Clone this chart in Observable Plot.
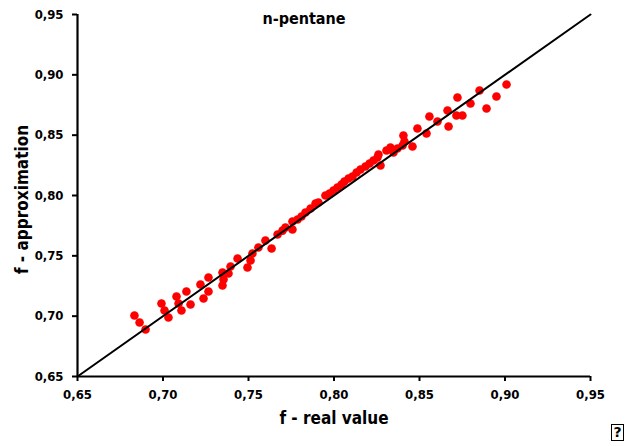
<!DOCTYPE html>
<html>
<head>
<meta charset="utf-8">
<script src="https://cdn.jsdelivr.net/npm/d3@7"></script>
<script src="https://cdn.jsdelivr.net/npm/@observablehq/plot@0.6"></script>
<style>
  html, body { margin: 0; padding: 0; background: #fff; }
  #wrap { position: relative; width: 627px; height: 446px; overflow: hidden; }
  #icon { position: absolute; left: 611px; top: 424px; width: 11px; height: 15px; border: 1px solid #000;
          font: bold 14px "DejaVu Sans", sans-serif; line-height: 15px; text-align: center; color: #000; }
</style>
</head>
<body>
<div id="wrap"></div>
<script>
const chartTitle = "n-pentane";
const xLabel = "f - real value";
const yLabel = "f - approximation";
const ticks = [0.65, 0.70, 0.75, 0.80, 0.85, 0.90, 0.95];
const diagonal = [0.65, 0.95];

// f - real value
const realValue = [
  0.6833, 0.6863, 0.6898, 0.6991, 0.7009, 0.7032, 0.7079, 0.7091, 0.7108, 0.7137,
  0.7161, 0.7219, 0.7237, 0.7266, 0.7266, 0.7348, 0.7348, 0.7354, 0.7395, 0.7383,
  0.7436, 0.7494, 0.7512, 0.7523, 0.7558, 0.7599, 0.7635, 0.7670, 0.7699, 0.7716,
  0.7757, 0.7757, 0.7787, 0.7810, 0.7833, 0.7863, 0.7892, 0.7909, 0.7950, 0.7974,
  0.7997, 0.8020, 0.8044, 0.8061, 0.8085, 0.8108, 0.8132, 0.8155, 0.8184, 0.8208,
  0.8231, 0.8254, 0.8260, 0.8272, 0.8307, 0.8330, 0.8348, 0.8371, 0.8406, 0.8401,
  0.8412, 0.8459, 0.8488, 0.8541, 0.8558, 0.8605, 0.8664, 0.8670, 0.8722, 0.8716,
  0.8751, 0.8798, 0.8851, 0.8892, 0.8950, 0.9009
];
// f - approximation
const approximation = [
  0.7006, 0.6947, 0.6889, 0.7105, 0.7047, 0.6989, 0.7163, 0.7105, 0.7047, 0.7204,
  0.7097, 0.7262, 0.7146, 0.7320, 0.7204, 0.7362, 0.7254, 0.7304, 0.7412, 0.7354,
  0.7478, 0.7403, 0.7461, 0.7519, 0.7569, 0.7627, 0.7561, 0.7677, 0.7709, 0.7735,
  0.7784, 0.7718, 0.7801, 0.7826, 0.7859, 0.7892, 0.7934, 0.7942, 0.8000, 0.8017,
  0.8041, 0.8066, 0.8091, 0.8116, 0.8141, 0.8157, 0.8191, 0.8215, 0.8240, 0.8265,
  0.8290, 0.8315, 0.8340, 0.8249, 0.8373, 0.8398, 0.8356, 0.8389, 0.8497, 0.8414,
  0.8447, 0.8406, 0.8555, 0.8514, 0.8655, 0.8613, 0.8704, 0.8572, 0.8812, 0.8663,
  0.8663, 0.8762, 0.8870, 0.8721, 0.8820, 0.8920
];

const points = realValue.map((x, i) => ({x, y: approximation[i]}));
const fmt = d => d.toFixed(2).replace(".", ",");
const FONT = '"Liberation Sans Narrow", "DejaVu Sans Condensed", "DejaVu Sans", sans-serif';

const chart = Plot.plot({
  width: 627,
  height: 446,
  marginLeft: 77,
  marginRight: 37,
  marginTop: 14,
  marginBottom: 70,
  style: { fontFamily: FONT, fontWeight: "bold", fontSize: "13px", color: "#000", background: "#fff", fontStretch: "condensed" },
  x: { domain: [0.65, 0.95], ticks: ticks, tickFormat: fmt, tickSize: 5, tickPadding: 8, label: null },
  y: { domain: [0.65, 0.95], ticks: ticks, tickFormat: fmt, tickSize: 5, tickPadding: 9, label: null },
  marks: [
    Plot.axisX({ ticks: ticks, tickFormat: fmt, tickSize: 5, tickPadding: 8, strokeWidth: 2, label: null }),
    Plot.axisY({ ticks: ticks, tickFormat: fmt, tickSize: 5, tickPadding: 9, strokeWidth: 2, label: null }),
    Plot.dot(points, { x: "x", y: "y", r: 4.3, fill: "#ff0000", stroke: "none" }),
    Plot.line(diagonal, { x: d => d, y: d => d, stroke: "#000", strokeWidth: 2 }),
    Plot.ruleX([0.65], { stroke: "#000", strokeWidth: 2.2 }),
    Plot.ruleY([0.65], { stroke: "#000", strokeWidth: 2.2 }),
    Plot.text([chartTitle], { text: d => d, frameAnchor: "top", textAnchor: "middle", lineAnchor: "middle", dx: -30, dy: 4, fontSize: 16, fontWeight: "bold", fill: "#000" }),
    Plot.text([xLabel], { text: d => d, frameAnchor: "bottom", textAnchor: "middle", lineAnchor: "middle", dy: 42, fontSize: 17, fontWeight: "bold", fill: "#000" }),
    Plot.text([yLabel], { text: d => d, frameAnchor: "left", textAnchor: "middle", lineAnchor: "middle", dx: -55, dy: 4, rotate: -90, fontSize: 17, fontWeight: "bold", fill: "#000" })
  ]
});
const wrap = document.getElementById("wrap");
wrap.appendChild(chart);
const icon = document.createElement("div");
icon.id = "icon";
icon.textContent = "?";
wrap.appendChild(icon);
</script>
</body>
</html>
